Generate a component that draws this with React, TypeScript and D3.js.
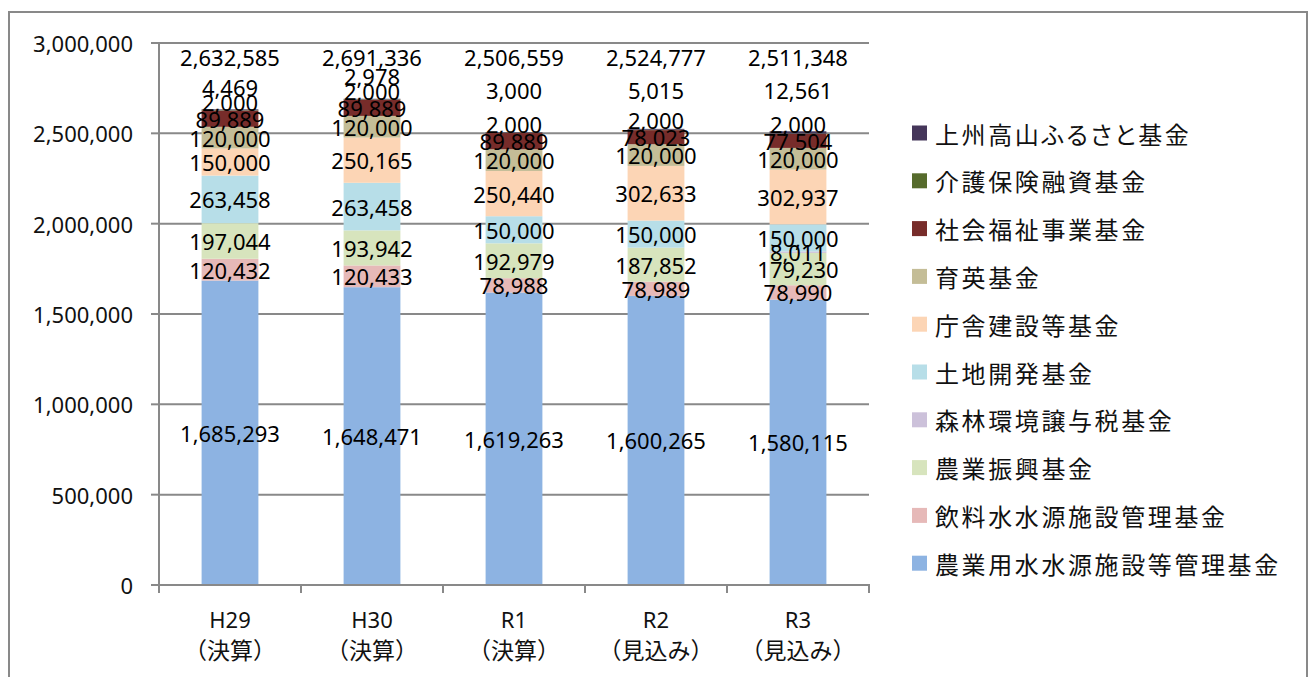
import { useEffect, useRef } from "react";
import * as d3 from "d3";

const categories = ["H29", "H30", "R1", "R2", "R3"];
const categorySub = ["（決算）", "（決算）", "（決算）", "（見込み）", "（見込み）"];

// stacked bottom -> top
const seriesNames = [
  "農業用水水源施設等管理基金",
  "飲料水水源施設管理基金",
  "農業振興基金",
  "森林環境譲与税基金",
  "土地開発基金",
  "庁舎建設等基金",
  "育英基金",
  "社会福祉事業基金",
  "介護保険融資基金",
  "上州高山ふるさと基金",
];
const seriesColors = [
  "#8DB3E2", "#E6B9B8", "#D7E4BD", "#CCC1DA", "#B7DEE8",
  "#FCD5B5", "#C4BD97", "#772C2A", "#566B2C", "#45365A",
];

const nougyouyousui = [1685293, 1648471, 1619263, 1600265, 1580115];
const inryousui = [120432, 120433, 78988, 78989, 78990];
const nougyoushinkou = [197044, 193942, 192979, 187852, 179230];
const shinrin = [0, 0, 0, 0, 8011];
const tochikaihatsu = [263458, 263458, 150000, 150000, 150000];
const chousha = [150000, 250165, 250440, 302633, 302937];
const ikuei = [120000, 120000, 120000, 120000, 120000];
const shakaifukushi = [89889, 89889, 89889, 78023, 77504];
const kaigo = [2000, 2000, 2000, 2000, 2000];
const furusato = [4469, 2978, 3000, 5015, 12561];
const totals = [2632585, 2691336, 2506559, 2524777, 2511348];

const seriesValues = [
  nougyouyousui, inryousui, nougyoushinkou, shinrin, tochikaihatsu,
  chousha, ikuei, shakaifukushi, kaigo, furusato,
];

const yTicks = [0, 500000, 1000000, 1500000, 2000000, 2500000, 3000000];

const W = 1309, H = 677;
const LATIN = "'Noto Sans', 'Noto Sans CJK JP', sans-serif";
const CJK = "'Noto Sans CJK JP', sans-serif";

export default function App() {
  const svgRef = useRef<SVGSVGElement | null>(null);

  useEffect(() => {
    if (!svgRef.current) return;
    const svg = d3.select(svgRef.current);
    svg.selectAll("*").remove();

    const plot = { left: 159, right: 869, top: 43, bottom: 585 };
    const gray = "#898989";

    svg.append("rect").attr("x", 9).attr("y", 12).attr("width", 1298).attr("height", 680)
      .attr("fill", "#fff").attr("stroke", gray).attr("stroke-width", 2);

    const x = d3.scaleBand().domain(categories).range([plot.left, plot.right])
      .paddingInner(0.6).paddingOuter(0.3);
    const y = d3.scaleLinear().domain([0, 3000000]).range([plot.bottom, plot.top]);

    // gridlines
    svg.append("g").selectAll("line").data(yTicks.filter((t) => t > 0)).join("line")
      .attr("x1", plot.left).attr("x2", plot.right)
      .attr("y1", (d) => y(d)).attr("y2", (d) => y(d))
      .attr("stroke", gray).attr("stroke-width", 2);

    // stacked bars
    const rows = categories.map((c, i) => {
      const r: Record<string, number | string> = { cat: c };
      seriesNames.forEach((s, k) => (r[s] = seriesValues[k][i]));
      return r;
    });
    const stack = d3.stack<Record<string, number | string>>().keys(seriesNames)(rows as any);

    stack.forEach((layer, k) => {
      svg.append("g").selectAll("rect").data(layer).join("rect")
        .attr("x", (d) => x(d.data.cat as string)!)
        .attr("width", x.bandwidth())
        .attr("y", (d) => y(d[1]))
        .attr("height", (d) => Math.max(0, y(d[0]) - y(d[1])))
        .attr("fill", seriesColors[k]);
    });

    // axes
    svg.append("line").attr("x1", plot.left).attr("x2", plot.left)
      .attr("y1", plot.top).attr("y2", plot.bottom).attr("stroke", gray).attr("stroke-width", 2);
    svg.append("line").attr("x1", plot.left - 8).attr("x2", plot.right + 1)
      .attr("y1", plot.bottom).attr("y2", plot.bottom).attr("stroke", gray).attr("stroke-width", 2);

    const yAxis = svg.append("g");
    yTicks.forEach((t) => {
      yAxis.append("line").attr("x1", plot.left - 8).attr("x2", plot.left)
        .attr("y1", y(t)).attr("y2", y(t)).attr("stroke", gray).attr("stroke-width", 2);
      yAxis.append("text").attr("x", plot.left - 26).attr("y", y(t))
        .attr("text-anchor", "end").attr("dominant-baseline", "central")
        .attr("font-family", LATIN).attr("font-size", 22).attr("fill", "#111")
        .text(d3.format(",")(t));
    });

    const step = x.step();
    const xAxis = svg.append("g");
    d3.range(categories.length + 1).forEach((i) => {
      const xp = plot.left + i * step;
      xAxis.append("line").attr("x1", xp).attr("x2", xp)
        .attr("y1", plot.bottom).attr("y2", plot.bottom + 8).attr("stroke", gray).attr("stroke-width", 2);
    });
    categories.forEach((c, i) => {
      const cx = x(c)! + x.bandwidth() / 2;
      xAxis.append("text").attr("x", cx).attr("y", 628)
        .attr("text-anchor", "middle").attr("font-family", LATIN).attr("font-size", 22)
        .attr("fill", "#111").text(c);
      xAxis.append("text").attr("x", cx).attr("y", 659)
        .attr("text-anchor", "middle").attr("font-family", CJK).attr("font-size", 23)
        .attr("fill", "#111").text(categorySub[i]);
    });

    // data labels
    const labels = svg.append("g").attr("font-family", LATIN).attr("font-size", 22)
      .attr("fill", "#000").attr("text-anchor", "middle");
    const totalY = y(3000000) + 14;
    categories.forEach((c, i) => {
      const cx = x(c)! + x.bandwidth() / 2;
      let prevY = Infinity;
      stack.forEach((layer, k) => {
        const d = layer[i];
        const v = seriesValues[k][i];
        if (!v) return;
        let ly = y((d[0] + d[1]) / 2);
        // nudge the thin top segments' labels upward so they stay readable
        if (k === 8) ly = Math.min(ly, prevY - 17);
        if (k === 9) ly = Math.min(ly, prevY - 15, totalY + 33);
        prevY = ly;
        labels.append("text").attr("x", cx).attr("y", ly)
          .attr("dominant-baseline", "central").text(d3.format(",")(v));
      });
      labels.append("text").attr("x", cx).attr("y", totalY)
        .attr("dominant-baseline", "central").text(d3.format(",")(totals[i]));
    });

    // legend (top item = topmost series)
    const legend = svg.append("g");
    const order = seriesNames.map((_, k) => k).reverse();
    order.forEach((k, j) => {
      const ly = 133 + j * 47.8;
      legend.append("rect").attr("x", 912).attr("y", ly - 7.5).attr("width", 15).attr("height", 15)
        .attr("fill", seriesColors[k]);
      legend.append("text").attr("x", 935).attr("y", ly)
        .attr("dominant-baseline", "central").attr("font-family", CJK).attr("font-size", 24)
        .attr("letter-spacing", 2.6).style("font-feature-settings", "'palt'")
        .attr("fill", "#111").text(seriesNames[k]);
    });
  }, []);

  return (
    <svg ref={svgRef} width={W} height={H}
      style={{ position: "absolute", left: 0, top: 0, display: "block", background: "#fff" }} />
  );
}
